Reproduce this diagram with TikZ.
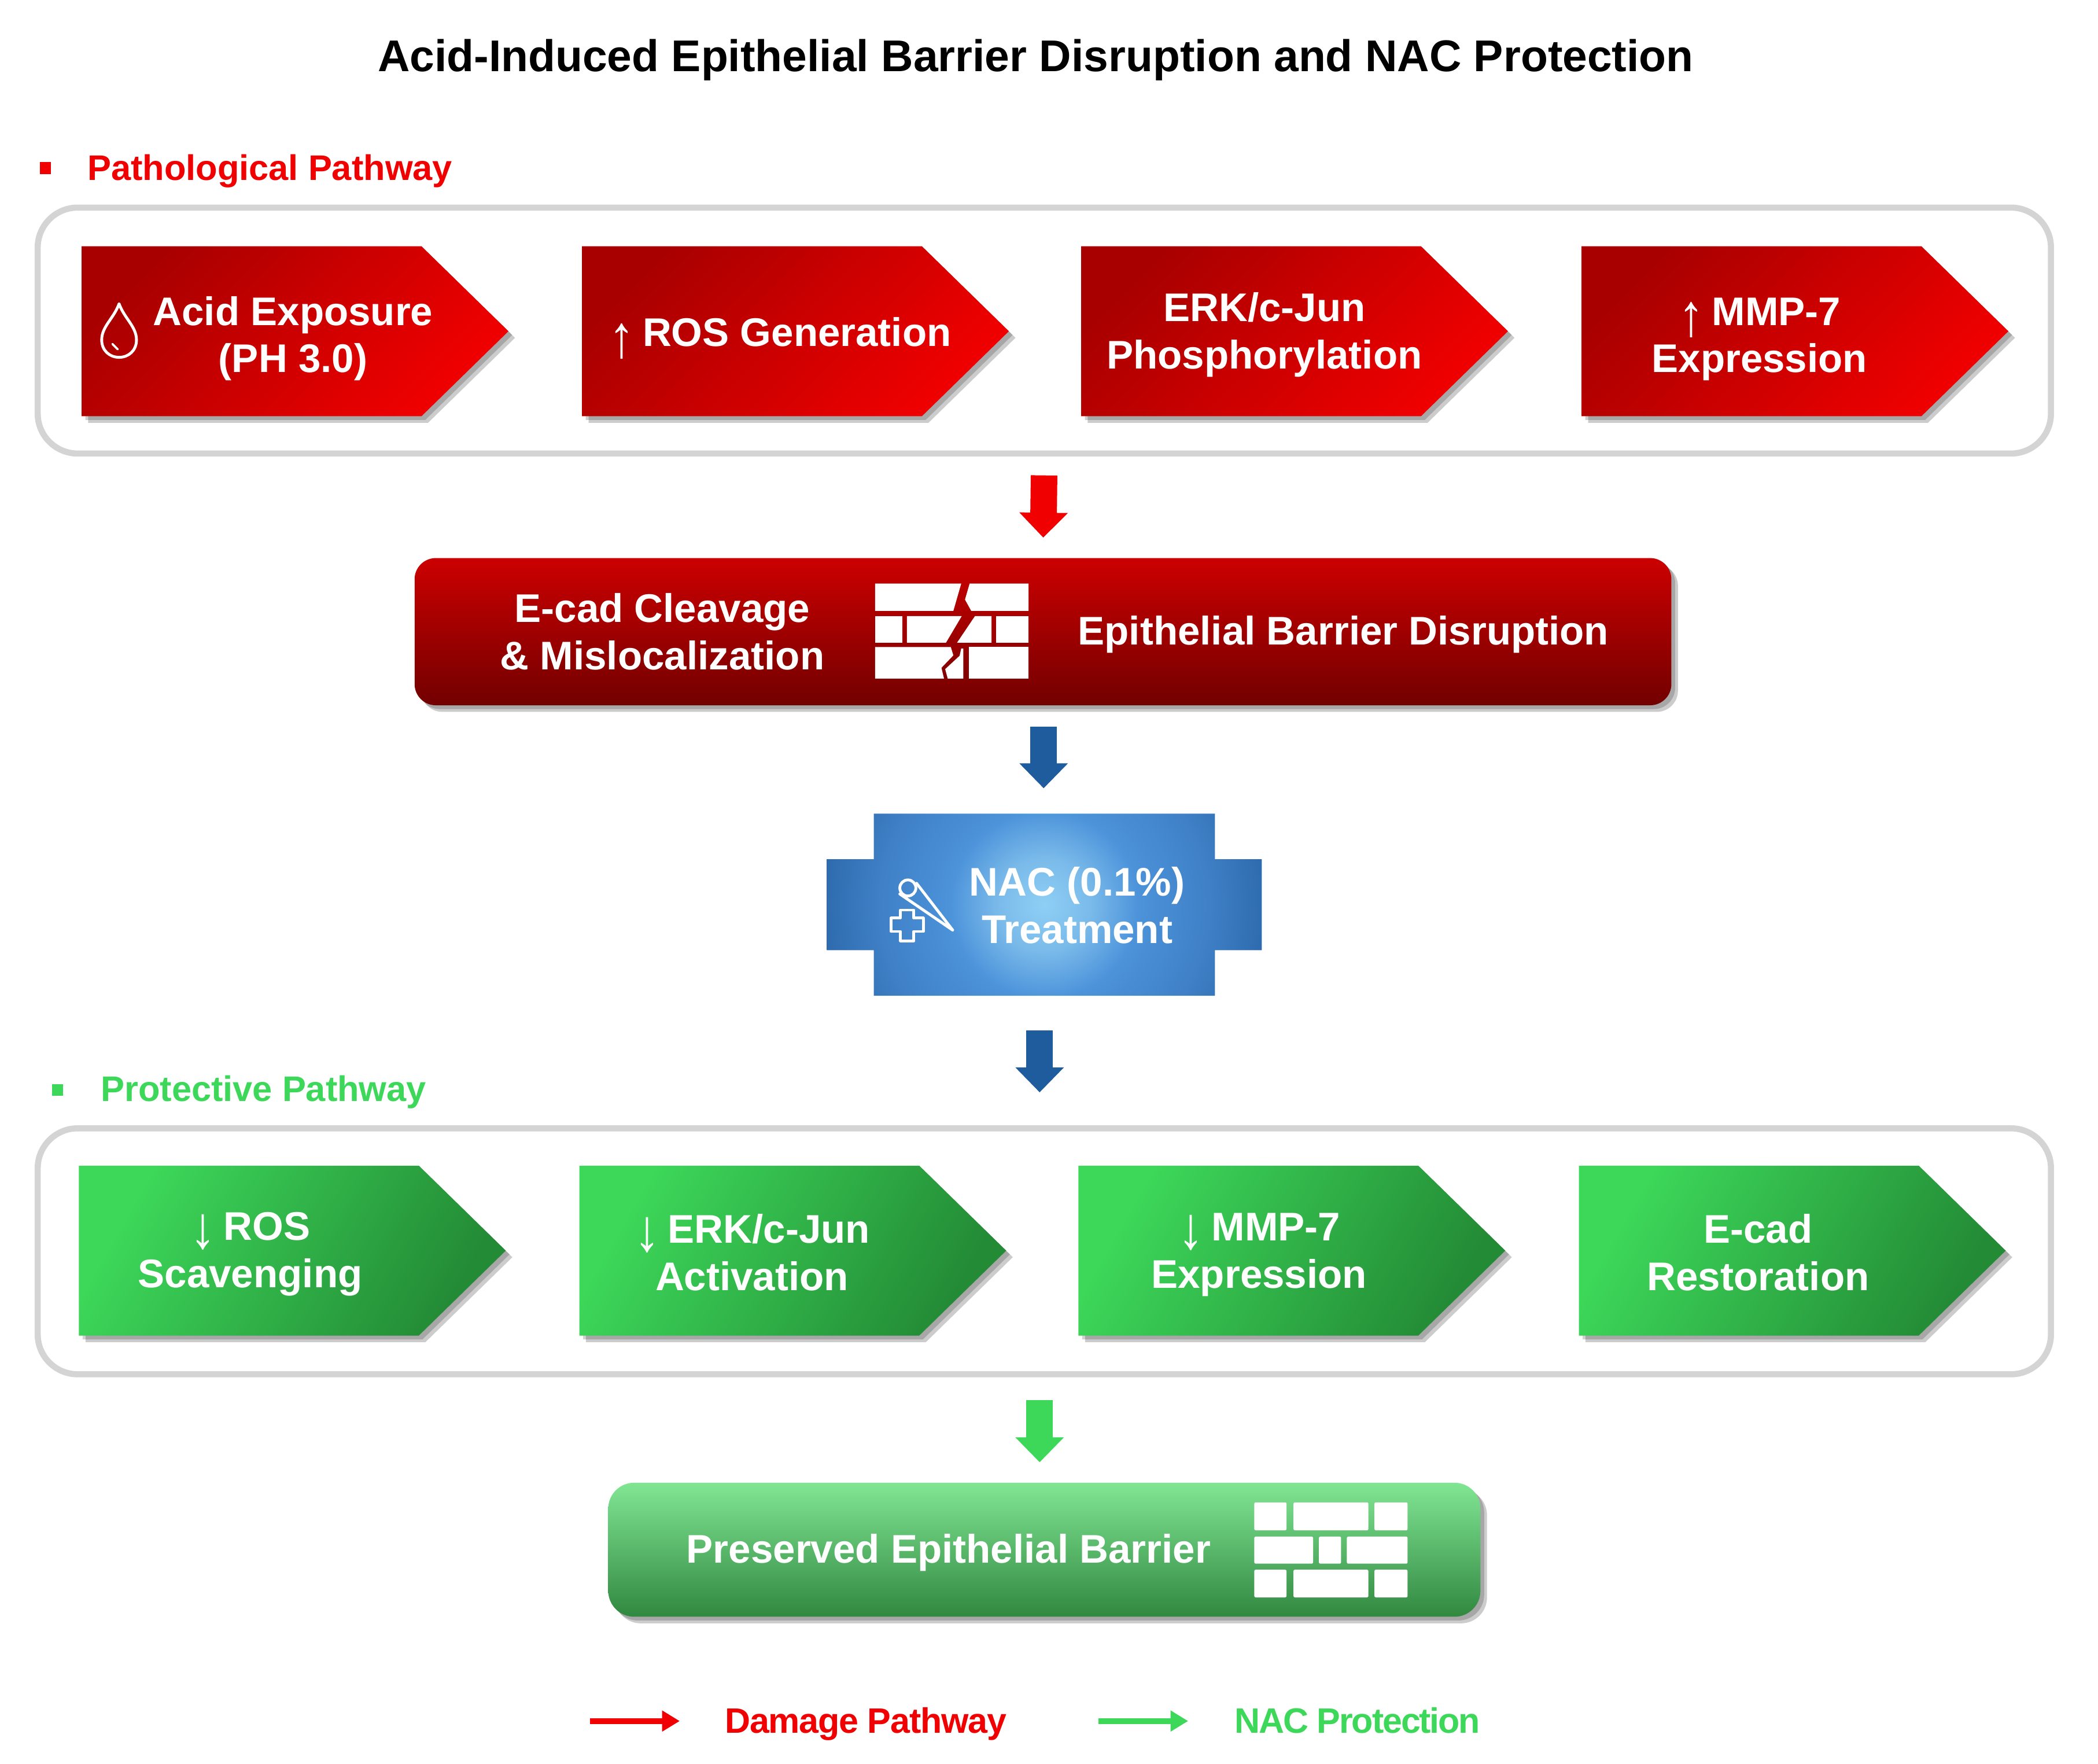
\documentclass[tikz,border=0pt]{standalone}
\usepackage{fontspec}
\usepackage{graphicx}
\setmainfont{Liberation Sans}
\usetikzlibrary{arrows.meta, shadows}
\definecolor{my_red}{HTML}{F00000}
\definecolor{my_midred}{HTML}{EA0000}
\definecolor{my_darkred}{HTML}{A80000}
\definecolor{my_green}{HTML}{3DD85A}
\definecolor{my_midgreen}{HTML}{38C652}
\definecolor{my_darkgreen}{HTML}{238A35}
\definecolor{my_blue}{HTML}{1F5C9E}
\definecolor{my_lightgray}{HTML}{D4D4D4}
\definecolor{nac_a}{HTML}{8ECFF5}
\definecolor{nac_b}{HTML}{7ABAEA}
\definecolor{nac_c}{HTML}{4C93DA}
\definecolor{nac_d}{HTML}{3F80C6}
\definecolor{nac_e}{HTML}{2A66A8}
\pgfdeclareradialshading{nacshade}{\pgfpoint{0bp}{0bp}}{%
    color(0bp)=(nac_a); color(5bp)=(nac_b); color(10bp)=(nac_c);
    color(17.5bp)=(nac_d); color(25bp)=(nac_e); color(50bp)=(nac_e)}
\newcommand{\stepshape}[3]{%
    \shade[#1] (#2, #3) -- ++(254, 0) -- ++(65, 63.5) -- ++(-65, 63.5) -- ++(-254, 0) -- cycle;
}
\newcommand{\wallrow}[3]{%
    \foreach \xa/\xb in {#3} {
        \fill[white, rounded corners=0.6pt] (\xa, #1) rectangle (\xb, #2);
    }
}
\newcommand{\uparrowmark}{\smash{\mdseries\raisebox{-0.27em}{\scalebox{1.3}[1.5]{↑}}}\hspace{-0.08em}}
\newcommand{\downarrowmark}{\smash{\mdseries\raisebox{-0.2em}{\scalebox{1.3}[1.5]{↓}}}\hspace{-0.08em}}
\begin{document}
\begin{tikzpicture}[
    x=0.02cm, y=-0.02cm,
    softshadow/.style={drop shadow={shadow xshift=1.6pt, shadow yshift=-1.6pt, opacity=0.18, fill=black},
        drop shadow={shadow xshift=2.8pt, shadow yshift=-2.8pt, opacity=0.2, fill=black}},
    redstep/.style={softshadow, left color=my_darkred, middle color=my_midred, right color=my_red, shading angle=45},
    greenstep/.style={softshadow, left color=my_green, middle color=my_midgreen, right color=my_darkgreen, shading angle=60},
    area/.style={draw=my_lightgray, line width=2.6pt, rounded corners=17pt, minimum width=856.4pt, minimum height=104.6pt},
    steptext/.style={font=\fontsize{17}{20.1}\selectfont\bfseries, text=white, align=center, inner sep=0pt},
    head/.style={font=\fontsize{15.1}{18}\selectfont\bfseries, anchor=west, inner sep=0pt},
    legendtext/.style={font=\fontsize{15}{18}\selectfont\bfseries\addfontfeature{LetterSpace=-2}, anchor=base, inner sep=0pt},
    blockarrow/.style={-{Triangle[length=10.6pt, width=20pt]}, line width=11.3pt},
    legendarrow/.style={-{Triangle[length=7.5pt, width=8.5pt]}, line width=2.4pt},
    iconline/.style={draw=white, line width=1.2pt, line join=round, line cap=round}
]
\useasboundingbox (0, 0) rectangle (1568, 1318.1);

% ---- Titel ----
\node[font=\fontsize{18.9}{22}\selectfont\bfseries, inner sep=0pt] (title) at (774, 45)
    {Acid-Induced Epithelial Barrier Disruption and NAC Protection};

% ---- Pathological Pathway ----
\fill[my_red] (30, 121) rectangle (38, 130);
\node[head, text=my_red] (pathhead) at (65, 128) {Pathological Pathway};
\node[area] (patharea) at (780.5, 247) {};
\stepshape{redstep}{61}{184}
\stepshape{redstep}{435}{184}
\stepshape{redstep}{808}{184}
\stepshape{redstep}{1182}{184}
\node[steptext] (acid) at (219, 253) {Acid Exposure\\(PH 3.0)};
\node[steptext] (ros) at (583, 248) {\uparrowmark{} ROS Generation};
\node[steptext] (erk) at (945, 250) {ERK/c-Jun\\Phosphorylation};
\node[steptext] (mmp) at (1315, 253.5) {\uparrowmark{} MMP-7\\Expression};
% Tropfen
\draw[iconline] (89, 227) .. controls (85, 238) and (76, 244) .. (76, 254)
    .. controls (76, 262) and (82, 267) .. (89, 267)
    .. controls (96, 267) and (102, 262) .. (102, 254)
    .. controls (102, 244) and (93, 238) .. (89, 227);
\draw[iconline, line width=0.9pt] (84, 257) -- (88, 261);

% ---- Barriere ----
\node[softshadow, rounded corners=9pt, top color=my_red!85!black, middle color=my_red!78!black,
    bottom color=my_darkred!68!black, minimum width=534.6pt, minimum height=62.6pt, inner sep=0pt]
    (disrupt) at (779.5, 472) {};
\node[steptext] (cleavage) at (495, 472) {E-cad Cleavage\\\& Mislocalization};
\node[steptext] (barrier) at (1004, 474) {Epithelial Barrier Disruption};
\fill[white] (654, 436) -- (718.4, 436) -- (712.5, 456.5) -- (654, 456.5) -- cycle;
\fill[white] (724.7, 436) -- (768.7, 436) -- (768.7, 456.5) -- (725.9, 456.5) -- (721.2, 448) -- cycle;
\fill[white] (654, 460.3) rectangle (674.3, 480.2);
\fill[white] (677.8, 460.3) -- (718.8, 460.3) -- (707, 480.2) -- (677.8, 480.2) -- cycle;
\fill[white] (728.7, 460.3) -- (741, 460.3) -- (741, 480.2) -- (715.3, 480.2) -- cycle;
\fill[white] (744.6, 460.3) rectangle (768.7, 480.2);
\fill[white] (654, 483.5) -- (710.6, 483.5) -- (712.5, 489.7) -- (703.6, 499) -- (705.5, 507) -- (654, 507) -- cycle;
\fill[white] (718.4, 484.6) -- (720, 484.6) -- (720, 507) -- (708.3, 507) -- (706.4, 500) -- (717.2, 490) -- cycle;
\fill[white] (724, 483.5) rectangle (768.7, 507);

% ---- NAC ----
\begin{scope}
    \clip (653, 608) -- (908, 608) -- (908, 642) -- (943, 642) -- (943, 710) -- (908, 710)
        -- (908, 744) -- (653, 744) -- (653, 710) -- (618, 710) -- (618, 642) -- (653, 642) -- cycle;
    \shade[shading=nacshade] (780.5, 676) circle (100pt);
\end{scope}
\coordinate (nactop) at (780, 608);
\coordinate (nacbottom) at (777, 744);
\node[steptext] (nac) at (805, 676.5) {NAC (0.1\%)\\Treatment};
\draw[iconline] (678.5, 663.5) circle (6);
\draw[iconline] (672.5, 668) -- (712, 695) -- (685, 660);
\draw[iconline] (673, 680) -- (683, 680) -- (683, 686) -- (690, 686) -- (690, 696) -- (683, 696)
    -- (683, 703) -- (673, 703) -- (673, 696) -- (666, 696) -- (666, 686) -- (673, 686) -- cycle;

% ---- Protective Pathway ----
\fill[my_green] (39, 810) rectangle (47, 819);
\node[head, text=my_green] (prothead) at (75, 816) {Protective Pathway};
\node[area] (protarea) at (780.5, 935) {};
\stepshape{greenstep}{59}{871}
\stepshape{greenstep}{433}{871}
\stepshape{greenstep}{806}{871}
\stepshape{greenstep}{1180}{871}
\node[steptext] (scav) at (187, 937) {\downarrowmark{} ROS\\Scavenging};
\node[steptext] (activ) at (562, 936) {\downarrowmark{} ERK/c-Jun\\Activation};
\node[steptext] (expr) at (941, 937.5) {\downarrowmark{} MMP-7\\Expression};
\node[steptext] (restore) at (1314, 936) {E-cad\\Restoration};

% ---- Erhaltene Barriere ----
\node[softshadow, rounded corners=11pt, top color=my_green!65!white, middle color=my_green!80!black,
    bottom color=my_darkgreen!85!gray, minimum width=371pt, minimum height=57pt, inner sep=0pt]
    (preserved) at (780.5, 1158) {};
\node[steptext] (preservedtext) at (709, 1160) {Preserved Epithelial Barrier};
\wallrow{1122.6}{1143.5}{937.4/961.5, 966.7/1022.7, 1027.2/1052}
\wallrow{1148.2}{1168.4}{937.4/981.4, 985.7/1002.3, 1006.6/1052}
\wallrow{1172.9}{1193.6}{937.4/961.5, 966.7/1022.7, 1027.2/1052}

% ---- Pfeile ----
\draw[blockarrow, my_red, shorten <=8pt, shorten >=8.5pt] (patharea.south) -- (disrupt.north);
\draw[blockarrow, my_blue, shorten <=9pt, shorten >=10.8pt] (disrupt.south -| nactop) -- (nactop);
\draw[blockarrow, my_blue, shorten <=14.7pt, shorten >=14pt] (nacbottom) -- (nacbottom |- protarea.north);
\draw[blockarrow, my_green, shorten <=9.8pt, shorten >=8.5pt] (protarea.south -| nacbottom) -- (preserved.north -| nacbottom);

% ---- Legende ----
\coordinate (damagefrom) at (441, 1286);
\coordinate (damageto) at (508, 1286);
\coordinate (nacfrom) at (821, 1286);
\coordinate (nacto) at (888, 1286);
\draw[legendarrow, my_red] (damagefrom) -- (damageto);
\draw[legendarrow, my_green] (nacfrom) -- (nacto);
\node[legendtext, text=my_red] (damage) at (647, 1295) {Damage Pathway};
\node[legendtext, text=my_green] (protection) at (1014.5, 1295) {\addfontfeature{LetterSpace=-3.5}NAC Protection};
\end{tikzpicture}
\end{document}
